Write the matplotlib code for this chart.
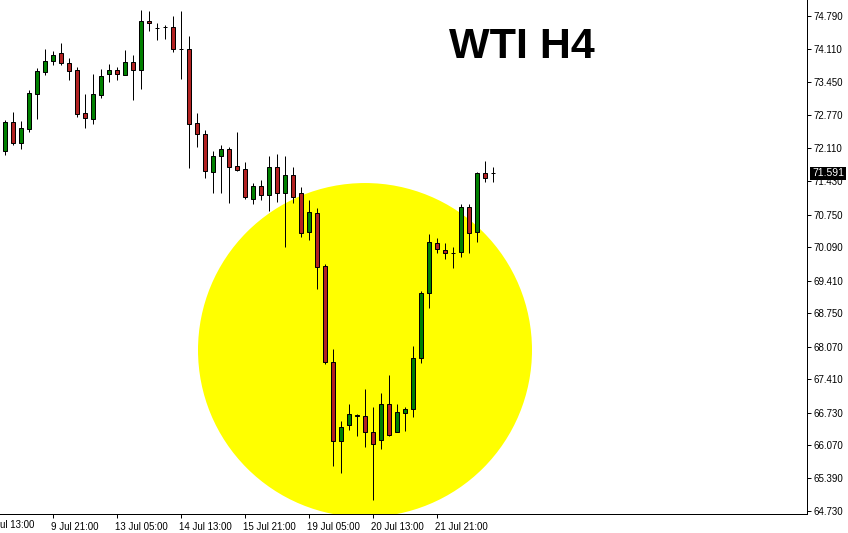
import matplotlib
matplotlib.use("Agg")
from matplotlib import pyplot as plt
from matplotlib.patches import Ellipse
import matplotlib.transforms as mtransforms

# H4 candles (open, high, low, close)
opens = [72.05, 72.64, 72.21, 72.49, 73.20, 73.65, 73.88, 74.04, 73.83, 73.69,
         72.82, 72.70, 73.18, 73.61, 73.69, 73.59, 73.86, 73.69, 74.69, 74.55,
         74.56, 74.57, 74.12, 74.12, 72.62, 72.39, 71.62, 71.94, 72.09, 71.74,
         71.68, 71.07, 71.33, 71.15, 71.72, 71.19, 71.56, 71.19, 70.40, 70.79,
         69.71, 67.76, 66.15, 66.48, 66.69, 66.66, 66.33, 66.17, 66.90, 66.33,
         66.72, 66.80, 67.84, 69.16, 70.18, 70.03, 69.97, 69.99, 70.91, 70.40,
         71.60, 71.59]
highs = [72.68, 72.84, 72.66, 73.29, 73.73, 74.12, 74.08, 74.24, 73.94, 73.75,
         73.20, 73.61, 73.71, 73.81, 73.75, 74.10, 74.00, 74.91, 74.89, 74.65,
         74.61, 74.79, 74.89, 74.38, 72.82, 72.47, 72.05, 72.17, 72.13, 72.43,
         71.82, 71.40, 71.46, 71.94, 71.98, 71.94, 71.72, 71.31, 71.05, 70.89,
         69.75, 68.02, 66.56, 66.90, 66.70, 67.21, 66.84, 67.13, 67.49, 66.90,
         66.84, 68.08, 69.20, 70.36, 70.28, 70.18, 70.10, 70.97, 70.97, 71.62,
         71.84, 71.72]
lows = [71.96, 72.17, 72.09, 72.43, 72.70, 73.59, 73.79, 73.79, 73.49, 72.74,
        72.51, 72.60, 73.12, 73.45, 73.49, 73.59, 73.08, 73.31, 74.49, 74.30,
        74.32, 74.06, 73.51, 71.70, 72.13, 71.50, 71.19, 71.19, 70.99, 71.64,
        71.07, 70.97, 71.05, 70.83, 71.01, 70.10, 70.99, 70.30, 70.24, 69.24,
        67.72, 65.64, 65.50, 66.38, 66.25, 66.03, 64.95, 65.99, 66.25, 66.33,
        66.35, 66.64, 67.74, 68.86, 69.97, 69.85, 69.67, 69.89, 69.97, 70.20,
        71.42, 71.42]
closes = [72.64, 72.21, 72.51, 73.22, 73.67, 73.88, 74.00, 73.83, 73.67, 72.80,
          72.72, 73.20, 73.57, 73.69, 73.61, 73.86, 73.69, 74.69, 74.65, 74.55,
          74.57, 74.12, 74.11, 72.60, 72.39, 71.64, 71.94, 72.09, 71.72, 71.66,
          71.11, 71.33, 71.15, 71.72, 71.19, 71.56, 71.11, 70.38, 70.81, 69.69,
          67.76, 66.15, 66.44, 66.70, 66.67, 66.33, 66.09, 66.90, 66.27, 66.74,
          66.80, 67.84, 69.16, 70.20, 70.06, 69.97, 69.97, 70.91, 70.38, 71.60,
          71.50, 71.591]

price_ticks = [74.790, 74.110, 73.450, 72.770, 72.110, 71.430, 70.750, 70.090,
               69.410, 68.750, 68.070, 67.410, 66.730, 66.070, 65.390, 64.730]
time_tick_pos = [6, 14, 22, 30, 38, 46, 54]
time_tick_labels = ["9 Jul 21:00", "13 Jul 05:00", "14 Jul 13:00", "15 Jul 21:00",
                    "19 Jul 05:00", "20 Jul 13:00", "21 Jul 21:00"]
first_label = "8 Jul 13:00"
last_price = 71.591
title = "WTI H4"

up_color = "#008000"
down_color = "#b22222"
px = 0.72  # one pixel in points at dpi 100

fig = plt.figure(figsize=(8.48, 5.33), dpi=100)
ax = fig.add_axes([0.0, 19 / 533, 807 / 848, 514 / 533])

idx = list(range(len(opens)))
colors = [up_color if c >= o else down_color for o, c in zip(opens, closes)]
bottoms = [min(o, c) for o, c in zip(opens, closes)]
heights = [abs(c - o) for o, c in zip(opens, closes)]

# the highlight circle
ax.add_patch(Ellipse((45, 68.0), 41.75, 6.79, facecolor="#ffff00",
                     edgecolor="none", zorder=1))

ax.vlines(idx, lows, highs, color="black", linewidth=px, zorder=2)
ax.bar(idx, heights, bottom=bottoms, width=0.6, color=colors,
       edgecolor="black", linewidth=px, zorder=3)

ax.set_xlim(-0.625, 100.25)
ax.set_ylim(64.668, 75.115)

for s in ["left", "top"]:
    ax.spines[s].set_visible(False)
for s in ["right", "bottom"]:
    ax.spines[s].set_linewidth(px)

font = "Liberation Sans"
ax.yaxis.tick_right()
ax.set_yticks(price_ticks)
ax.set_yticklabels(["%.3f" % p for p in price_ticks], fontsize=7, family=font)
ax.tick_params(axis="y", length=3, width=px, pad=2)

ax.set_xticks(time_tick_pos)
ax.set_xticklabels(time_tick_labels, fontsize=7, family=font, ha="left")
ax.tick_params(axis="x", length=3, width=px, pad=3)
shift = mtransforms.ScaledTranslation(-2 / 100, 0, fig.dpi_scale_trans)
for lab in ax.get_xticklabels():
    lab.set_transform(lab.get_transform() + shift)

# label cut off at the left edge, as in the original
xt = mtransforms.blended_transform_factory(ax.transData, ax.transAxes)
ax.text(-2 - 0.25, -0.012, first_label, transform=xt, fontsize=7, family=font,
        ha="left", va="top", clip_on=False)

# current price box
yt = mtransforms.blended_transform_factory(ax.transAxes, ax.transData)
ax.text(1.0 + 5 / 807, last_price, "%.3f" % last_price, transform=yt,
        fontsize=7.5, family=font, color="white", ha="left", va="center",
        clip_on=False, zorder=10,
        bbox=dict(boxstyle="square,pad=0.15", facecolor="black", edgecolor="none"))

ax.text(449 / 807, (514 - 58) / 514, title, transform=ax.transAxes, fontsize=31,
        fontweight="bold", family=font, ha="left", va="baseline")

fig.savefig("out.png", dpi=100)
